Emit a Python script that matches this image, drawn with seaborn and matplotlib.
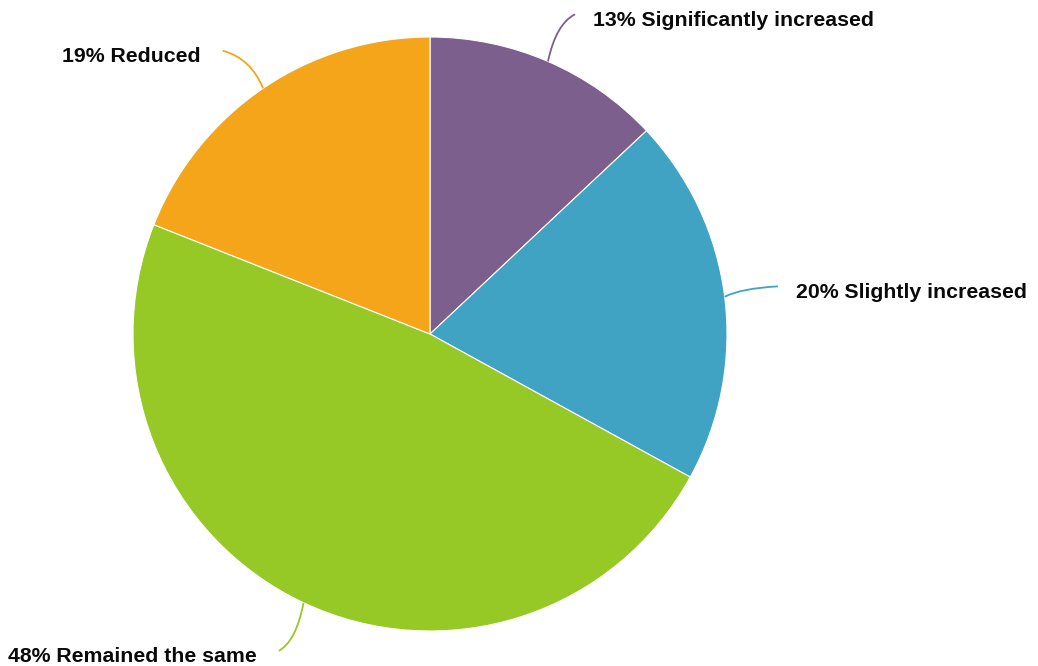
import numpy as np
import matplotlib
matplotlib.use("Agg")
import matplotlib.pyplot as plt
from matplotlib.path import Path
from matplotlib.patches import PathPatch
import seaborn as sns

# Survey answers, drawn clockwise from 12 o'clock
categories = ["Significantly increased", "Slightly increased", "Remained the same", "Reduced"]
shares = [13, 20, 48, 19]
colors = ["#7d5f8d", "#41a3c3", "#96c826", "#f5a51a"]
# small angular shifts (degrees) of the label anchors so they do not crowd
label_shift = [1.0, -0.6, 0.3, -2.0]

sns.set_theme(style="white")
plt.rcParams["font.family"] = ["Liberation Sans", "DejaVu Sans"]
palette = sns.color_palette(colors)

W, H = 1038, 666
fig = plt.figure(figsize=(W / 100, H / 100), dpi=100)
ax = fig.add_axes([0, 0, 1, 1])

cx, cy, r = 430, 332, 297
wedges, _ = ax.pie(
    shares,
    colors=palette,
    startangle=90,
    counterclock=False,
    center=(cx, cy),
    radius=r,
    wedgeprops=dict(edgecolor="white", linewidth=0.8),
)
ax.set_xlim(0, W)
ax.set_ylim(0, H)
ax.set_aspect("equal")
ax.axis("off")

# Curved leader lines from each slice to its label
total = sum(shares)
cum = 0.0
for cat, val, col, shift in zip(categories, shares, colors, label_shift):
    mid = (cum + val / 2) / total * 2 * np.pi  # clockwise from top
    cum += val
    ux, uy = np.sin(mid), np.cos(mid)
    sx, sy = cx + r * ux, cy + r * uy
    lab = mid + np.radians(shift)
    ex, ey = cx + 1.182 * r * np.sin(lab), cy + 1.182 * r * np.cos(lab)
    dx, dy = ex - sx, ey - sy
    ctrl = (sx + 0.3 * dx, sy + 0.8 * dy)
    path = Path([(sx, sy), ctrl, (ex, ey)], [Path.MOVETO, Path.CURVE3, Path.CURVE3])
    ax.add_patch(PathPatch(path, facecolor="none", edgecolor=col, linewidth=1.3))
    right = ux >= 0
    tx = ex + 18 if right else ex - 22
    ax.text(
        tx, ey - 6, f"{val}% {cat}",
        ha="left" if right else "right", va="center",
        fontsize=15.3, fontweight="bold", color="#0a0a0a",
    )

fig.savefig("out.png", dpi=100, facecolor="white")
